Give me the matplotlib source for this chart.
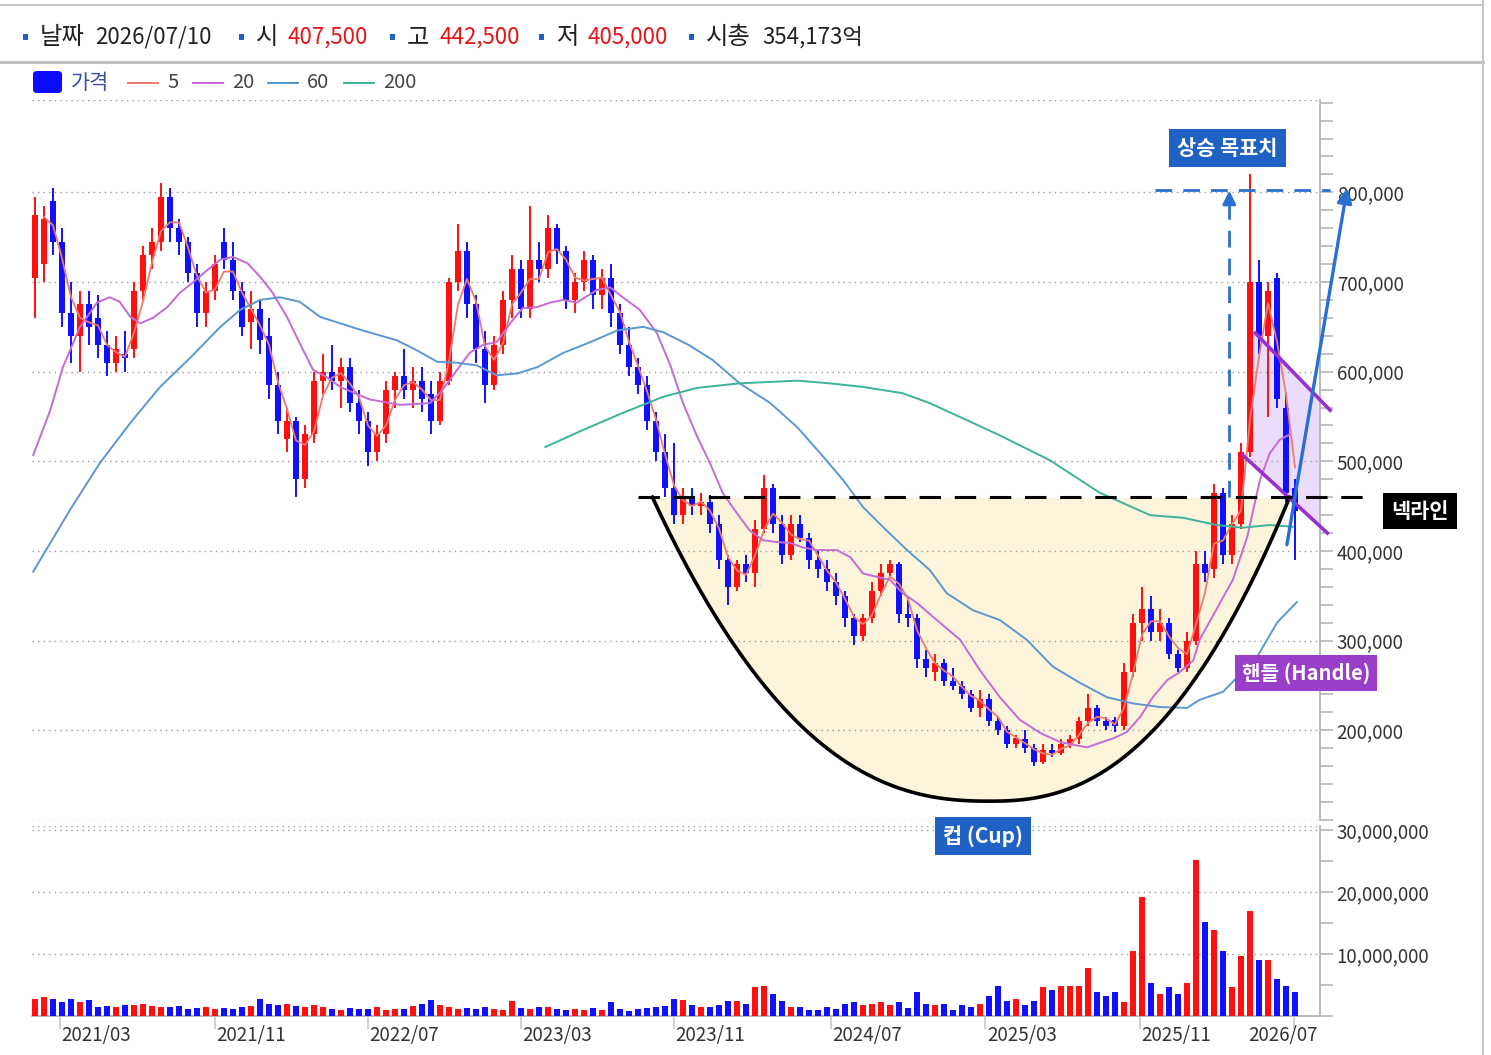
import numpy as np
import pandas as pd
import matplotlib
matplotlib.use('Agg')
import matplotlib.pyplot as plt
import matplotlib.transforms as mtrans
from matplotlib.lines import Line2D
from matplotlib.patches import Rectangle, FancyBboxPatch
from matplotlib.ticker import MultipleLocator, FuncFormatter

plt.rcParams['font.family'] = ['Noto Sans CJK KR', 'DejaVu Sans']

# ---- data (prices in 1,000 KRW, volume in millions of shares), biweekly candles ----
opens = [705, 720, 790, 745, 665, 640, 675, 660, 630, 610,
         620, 625, 690, 730, 745, 795, 760, 745, 710, 665,
         690, 745, 725, 690, 655, 670, 640, 585, 525, 545,
         480, 530, 590, 600, 590, 605, 565, 545, 510, 530,
         580, 595, 580, 590, 575, 545, 590, 700, 735, 675,
         625, 585, 630, 680, 715, 670, 725, 715, 760, 735,
         680, 700, 725, 685, 705, 665, 630, 605, 585, 545,
         510, 470, 440, 460, 450, 455, 430, 390, 360, 385,
         375, 425, 470, 430, 395, 430, 415, 390, 380, 365,
         350, 325, 305, 325, 355, 375, 385, 330, 325, 280,
         265, 275, 255, 250, 240, 225, 235, 210, 200, 185,
         190, 180, 165, 178, 175, 185, 190, 210, 225, 210,
         212, 205, 265, 320, 335, 310, 320, 285, 270, 300,
         385, 380, 465, 395, 430, 510, 700, 640, 705, 560,
         470]
highs = [795, 785, 805, 760, 700, 690, 690, 685, 645, 640,
         645, 700, 740, 760, 810, 805, 770, 750, 720, 700,
         730, 760, 745, 700, 690, 680, 660, 600, 560, 550,
         540, 600, 620, 630, 615, 615, 580, 555, 540, 590,
         600, 625, 605, 605, 590, 600, 705, 765, 745, 685,
         645, 640, 690, 730, 725, 785, 745, 775, 765, 740,
         710, 735, 730, 715, 720, 675, 650, 615, 595, 555,
         530, 520, 470, 470, 465, 462, 440, 395, 390, 395,
         435, 485, 475, 440, 440, 440, 420, 400, 390, 375,
         355, 330, 330, 365, 385, 390, 388, 345, 330, 290,
         285, 280, 270, 255, 245, 245, 240, 215, 205, 195,
         200, 185, 185, 185, 190, 195, 215, 240, 228, 215,
         215, 275, 330, 360, 350, 335, 325, 290, 310, 400,
         400, 475, 470, 440, 520, 820, 725, 700, 710, 575,
         480]
lows = [660, 700, 730, 650, 610, 600, 630, 615, 595, 600,
        600, 615, 680, 715, 735, 745, 730, 700, 650, 650,
        680, 715, 680, 640, 625, 620, 570, 530, 510, 460,
        470, 520, 575, 580, 560, 555, 530, 495, 500, 520,
        560, 570, 560, 555, 530, 540, 585, 690, 660, 610,
        565, 580, 620, 660, 660, 660, 700, 705, 720, 670,
        665, 690, 670, 670, 650, 620, 595, 575, 535, 500,
        460, 430, 430, 440, 440, 420, 380, 340, 355, 365,
        360, 420, 420, 385, 390, 410, 380, 370, 355, 340,
        315, 295, 300, 320, 350, 370, 320, 315, 270, 260,
        255, 250, 245, 235, 220, 215, 205, 195, 180, 180,
        175, 160, 162, 170, 172, 180, 185, 205, 205, 200,
        198, 200, 260, 300, 300, 300, 280, 265, 265, 295,
        365, 370, 385, 385, 425, 505, 620, 550, 560, 455,
        390]
closes = [775, 770, 745, 665, 640, 675, 650, 630, 610, 625,
          615, 690, 730, 745, 795, 760, 745, 710, 665, 690,
          720, 725, 690, 650, 670, 635, 585, 545, 545, 480,
          530, 590, 600, 590, 605, 565, 545, 510, 530, 580,
          595, 580, 590, 570, 545, 590, 700, 735, 675, 625,
          585, 630, 680, 715, 670, 725, 715, 760, 735, 680,
          700, 725, 685, 705, 665, 630, 605, 585, 545, 510,
          470, 440, 460, 450, 455, 430, 390, 360, 385, 375,
          425, 470, 430, 395, 430, 415, 390, 380, 365, 350,
          325, 305, 325, 355, 375, 385, 330, 325, 280, 270,
          275, 255, 250, 240, 225, 235, 210, 200, 185, 192,
          180, 165, 178, 175, 185, 190, 210, 225, 210, 205,
          205, 265, 320, 335, 310, 320, 285, 270, 300, 385,
          375, 465, 395, 430, 510, 700, 640, 690, 570, 465,
          445]
volumes = [2.8, 3.1, 2.7, 2.2, 2.7, 2.3, 2.6, 1.5, 1.6, 1.4,
           1.8, 1.7, 1.9, 1.6, 1.5, 1.4, 1.6, 1.2, 1.3, 1.5,
           1.1, 1.3, 1.2, 1.4, 1.6, 2.8, 2.0, 1.7, 1.9, 1.6,
           1.5, 1.7, 1.5, 1.2, 1.0, 1.3, 1.1, 1.2, 1.4, 1.0,
           1.1, 1.2, 1.6, 2.0, 2.6, 1.7, 1.4, 1.1, 1.3, 1.2,
           1.4, 1.2, 1.0, 2.5, 1.3, 1.2, 1.5, 1.4, 1.1, 1.0,
           1.2, 1.0, 1.3, 0.9, 2.3, 1.1, 0.8, 1.2, 1.3, 1.4,
           1.6, 2.7, 2.6, 1.8, 1.5, 1.4, 1.7, 2.4, 2.5, 1.9,
           4.7, 4.8, 3.5, 2.4, 1.4, 1.4, 1.0, 0.9, 1.5, 1.2,
           1.9, 2.3, 1.8, 2.0, 2.2, 1.8, 2.3, 1.3, 3.9, 1.9,
           1.8, 2.0, 1.0, 1.8, 1.4, 2.0, 3.2, 4.8, 2.5, 2.8,
           1.8, 2.4, 4.6, 4.2, 4.9, 4.9, 4.9, 7.8, 3.9, 3.2,
           3.8, 2.2, 10.5, 19.2, 5.4, 3.6, 4.6, 3.6, 5.4, 25.2,
           15.1, 13.8, 10.5, 4.7, 9.7, 17.0, 9.1, 9.1, 5.9, 4.8,
           3.8]

# moving averages (candle index, price)
ma20_idx = [-0.2, 1.7, 3.1, 5, 6.9, 8.3, 9.4, 10.6, 11.7, 13.1, 14.7, 16.1, 17.6, 19.1,
            20.6, 22, 23.6, 25, 26.4, 28, 29.4, 30.9, 32.4, 33.9, 37.2, 40.6, 43.9, 45.3,
            46.9, 48.3, 49.8, 51.3, 52.8, 54.2, 55.8, 57.2, 58.7, 60.2, 62.4, 63.9, 65.3,
            67.2, 69.1, 70.6, 72, 73.6, 75, 76.4, 78, 79.4, 80.9, 82.4, 83.9, 85.3, 86.9,
            89.1, 90.6, 92, 93.6, 95, 96.4, 98, 100.2, 102.8, 105, 107.2, 109.4, 111.7,
            113.9, 115.3, 116.9, 118.3, 119.8, 121.3, 122.8, 124.2, 125.8, 127.2, 128.7,
            129.4, 133.1, 134.7, 136.1, 137.2, 138.3, 139.4]
ma20_val = [507, 557, 605, 650, 677, 683, 678, 661, 654, 660, 672, 688, 700, 713,
            725, 728, 721, 706, 688, 661, 632, 602, 594, 583, 569, 563, 565, 580,
            602, 621, 630, 633, 654, 671, 672, 677, 680, 677, 691, 694, 683,
            669, 643, 607, 565, 527, 498, 465, 442, 423, 412, 410, 409, 404, 401,
            401, 393, 375, 371, 368, 353, 342, 323, 301, 267, 237, 212, 197,
            187, 184, 181, 186, 191, 198, 215, 237, 256, 265, 278,
            301, 368, 416, 479, 509, 524, 530]
ma60_idx = [-0.2, 3.9, 7.2, 10.6, 13.9, 17.2, 20.6, 22.8, 25, 27.2, 29.4, 31.7, 33.9,
            36.4, 40.2, 42.4, 44.7, 46.9, 49.1, 51.3, 53.6, 55.8, 58.7, 61.7, 64.7,
            67.6, 69.8, 72.6, 75.3, 78.3, 81.7, 84.7, 87.6, 89.8, 92, 94.2, 96.9, 99.4,
            101.3, 104.2, 107.2, 110.2, 113.1, 116.1, 119.1, 122, 125, 128, 129.4, 132,
            135.8, 138, 140.2]
ma60_val = [377, 446, 498, 543, 583, 615, 650, 669, 680, 683, 678, 661, 654,
            646, 635, 624, 611, 610, 607, 596, 598, 605, 621, 633, 646,
            650, 644, 630, 613, 587, 565, 538, 505, 479, 449, 427, 401, 379,
            353, 334, 323, 301, 271, 253, 237, 230, 226, 225, 234, 243,
            282, 320, 343]
ma200_idx = [56.7, 60.9, 65.3, 69.8, 73.6, 78.3, 84.7, 88.3, 92, 96.4, 99.4, 103.1,
             107.2, 112.8, 118.3, 123.9, 127.6, 131.3, 134.2, 137.2, 139.8]
ma200_val = [516, 535, 554, 572, 582, 587, 590, 587, 583, 576, 565, 548,
             529, 501, 465, 440, 437, 429, 426, 429, 427]

tick_idx = [2.8, 20, 37, 54, 71, 88.4, 105.6, 122.8, 139.9]
tick_labels = ['2021/03', '2021/11', '2022/07', '2023/03', '2023/11',
               '2024/07', '2025/03', '2025/11', '2026/07']

header_labels = ['날짜', '시', '고', '저', '시총']
header_values = ['2026/07/10', '407,500', '442,500', '405,000', '354,173억']
header_colors = ['#222222', '#e8141a', '#e8141a', '#e8141a', '#222222']

neck_price = 460
target_price = 803

# ---- colours ----
RED = '#ff1010'
BLUE = '#1010ff'
C5, C20, C60, C200 = '#f07a6e', '#c56ad6', '#5b97d2', '#3db39a'
GRID = '#9a9a9a'
ANN_BLUE = '#2a6fd2'
BOX_BLUE = '#1f62c4'
HANDLE = '#9a2fd0'

W, H = 1491, 1055


def fx(px):
    return px / W


def fy(py):
    return 1 - py / H


fig = plt.figure(figsize=(W / 100, H / 100), dpi=100)
fig.patch.set_facecolor('white')

ax_vol = fig.add_axes([fx(32), fy(1016), fx(1320) - fx(32), fy(826) - fy(1016)])
ax = fig.add_axes([fx(32), fy(820), fx(1320) - fx(32), fy(100) - fy(820)])
ax.set_facecolor('none')

o = np.array(opens, float)
h = np.array(highs, float)
l = np.array(lows, float)
c = np.array(closes, float)
idx = np.arange(len(c))
cols = np.where(c >= o, RED, BLUE)

xlim = ((32 - 35) / 9, (1320 - 35) / 9)

# ---- price pane ----
for v in list(range(100, 900, 100)) + [903]:
    ax.axhline(v, color=GRID, ls=(0, (1, 3)), lw=1, zorder=1)

# cup shape
cup_left, cup_mid, cup_right, cup_low = 68.6, 106.1, 139.4, 121
tt = np.linspace(cup_left, cup_right, 300)
dd = np.where(tt < cup_mid, (cup_mid - tt) / (cup_mid - cup_left),
              (tt - cup_mid) / (cup_right - cup_mid))
yy = cup_low + (neck_price - cup_low) * dd ** 2.4
ax.fill_between(tt, yy, neck_price, color='#fdf5db', zorder=0.5, lw=0)
ax.plot(tt, yy, color='black', lw=2.6, zorder=7)

# handle channel
def upper_line(x):
    return 643 + (557 - 643) * (x - 135.6) / (143.9 - 135.6)


def lower_line(x):
    return 507 + (420 - 507) * (x - 134.2) / (143.6 - 134.2)


hx = np.linspace(135.0, xlim[1], 50)
ax.fill_between(hx, lower_line(hx), upper_line(hx), color='#ecdcfb', zorder=0.6, lw=0)
ax.plot([135.6, 143.9], [643, 557], color=HANDLE, lw=2.6, zorder=8, clip_on=False)
ax.plot([134.2, 143.6], [507, 420], color=HANDLE, lw=2.6, zorder=8, clip_on=False)

# candles
ax.vlines(idx, l, h, colors=cols, lw=1.4, zorder=4)
ax.bar(idx, np.maximum(np.abs(c - o), 2.5), bottom=np.minimum(o, c), width=0.72,
       color=cols, lw=0, zorder=5)

# moving averages
ma5 = pd.Series(c).rolling(3, min_periods=2).mean()
ax.plot(idx, ma5, color=C5, lw=1.3, zorder=6)
ax.plot(ma20_idx, ma20_val, color=C20, lw=1.4, zorder=6)
ax.plot(ma60_idx, ma60_val, color=C60, lw=1.4, zorder=6)
ax.plot(ma200_idx, ma200_val, color=C200, lw=1.4, zorder=6)

# neckline
ax.plot([67.0, 148.9], [neck_price, neck_price], color='black', lw=2.2,
        dashes=(7, 4.5), zorder=8, clip_on=False)
ax.text(153.9, 444.6, '넥라인', color='white', fontsize=15, fontweight='bold',
        ha='center', va='center', zorder=10, clip_on=False,
        bbox=dict(boxstyle='square,pad=0.38', fc='black', ec='none'))

# target
ax.plot([124.4, 143.9], [target_price, target_price], color=ANN_BLUE, lw=2,
        dashes=(6, 4), zorder=8, clip_on=False)
ax.plot([132.7, 132.7], [neck_price, target_price - 12], color=ANN_BLUE, lw=2,
        dashes=(6, 4), zorder=8)
ax.annotate('', xy=(132.7, target_price + 2), xytext=(132.7, target_price - 20),
            arrowprops=dict(arrowstyle='-|>', color=ANN_BLUE, lw=2, mutation_scale=20),
            zorder=8)
ax.annotate('', xy=(145.8, target_price + 2), xytext=(139.1, 407),
            arrowprops=dict(arrowstyle='-|>', color=ANN_BLUE, lw=2.4, mutation_scale=22,
                            shrinkA=0, shrinkB=0),
            zorder=9, annotation_clip=False)
ax.text(132.5, 849.4, '상승 목표치', color='white', fontsize=15, fontweight='bold',
        ha='center', va='center', zorder=10,
        bbox=dict(boxstyle='square,pad=0.4', fc=BOX_BLUE, ec='none'))
ax.text(141.2, 264, '핸들 (Handle)', color='white', fontsize=14.5, fontweight='bold',
        ha='center', va='center', zorder=10, clip_on=False,
        bbox=dict(boxstyle='square,pad=0.35', fc='#9a3ec9', ec='none'))
ax.text(105.3, 82.2, '컵 (Cup)', color='white', fontsize=15, fontweight='bold',
        ha='center', va='center', zorder=10, clip_on=False,
        bbox=dict(boxstyle='square,pad=0.38', fc=BOX_BLUE, ec='none'))

ax.set_xlim(*xlim)
ax.set_ylim(100, 903)
ax.set_xticks([])
ax.yaxis.tick_right()
ax.set_yticks(range(200, 900, 100))
ax.yaxis.set_major_formatter(FuncFormatter(lambda v, p: f'{int(round(v * 1000)):,}'))
ax.yaxis.set_minor_locator(MultipleLocator(20))
ax.tick_params(axis='y', which='both', length=9, width=1.2, color='#b5b5b5',
               labelsize=13.5, labelcolor='#333333', pad=3)
for s in ['top', 'left', 'bottom']:
    ax.spines[s].set_visible(False)
ax.spines['right'].set_color('#b5b5b5')
ax.spines['right'].set_linewidth(1.3)

# ---- volume pane ----
for v in [10, 20, 30, 30.65]:
    ax_vol.axhline(v, color=GRID, ls=(0, (1, 3)), lw=1, zorder=1)
ax_vol.bar(idx, volumes, width=0.75, color=cols, lw=0, zorder=3)
ax_vol.set_xlim(*xlim)
ax_vol.set_ylim(0, 30.65)
ax_vol.yaxis.tick_right()
ax_vol.set_yticks([10, 20, 30])
ax_vol.yaxis.set_major_formatter(FuncFormatter(lambda v, p: f'{int(round(v * 1e6)):,}'))
ax_vol.yaxis.set_minor_locator(MultipleLocator(5))
ax_vol.tick_params(axis='y', which='both', length=9, width=1.2, color='#b5b5b5',
                   labelsize=13.5, labelcolor='#333333', pad=3)
ax_vol.set_xticks(tick_idx)
ax_vol.set_xticklabels([])
ax_vol.tick_params(axis='x', length=9, width=1.2, color='#c8c8c8')
for s in ['top', 'left']:
    ax_vol.spines[s].set_visible(False)
for s in ['right', 'bottom']:
    ax_vol.spines[s].set_color('#b5b5b5')
    ax_vol.spines[s].set_linewidth(1.3)

trans = mtrans.blended_transform_factory(ax_vol.transData, ax_vol.transAxes)
for k, (pos, lab) in enumerate(zip(tick_idx, tick_labels)):
    if k == len(tick_idx) - 1:
        ax_vol.text(0.998, -0.1, lab, transform=ax_vol.transAxes, ha='right', va='center',
                    fontsize=13.5, color='#333333')
    else:
        ax_vol.text(pos + 0.15, -0.1, lab, transform=trans, ha='left', va='center',
                    fontsize=13.5, color='#333333')

# ---- frame lines ----
fig.add_artist(Line2D([fx(0), fx(1483)], [fy(5), fy(5)], color='#c8c8c8', lw=1.5))
fig.add_artist(Line2D([fx(0), fx(1483)], [fy(62), fy(62)], color='#bdbdbd', lw=2))
fig.add_artist(Line2D([fx(1483), fx(1483)], [fy(0), fy(1055)], color='#c8c8c8', lw=1.5))

# ---- header ----
sq_x = [25, 241, 392, 541, 691]
lab_x = [40, 256, 407, 557, 706]
val_x = [95, 287, 439, 588, 762]
for sx, lx, vx, lab, val, vc in zip(sq_x, lab_x, val_x, header_labels, header_values,
                                     header_colors):
    fig.add_artist(Rectangle((fx(sx - 2.5), fy(39.5)), 5 / W, 5 / H, color='#1f5fc8', lw=0))
    fig.text(fx(lx), fy(37), lab, fontsize=17.5, color='#222222', ha='left', va='center')
    fig.text(fx(vx), fy(37), val, fontsize=16, color=vc, ha='left', va='center')

# ---- legend ----
fig.add_artist(FancyBboxPatch((fx(33), fy(93)), 29 / W, 22 / H,
                              boxstyle='round,pad=0,rounding_size=0.003',
                              fc='#0a0aff', ec='none'))
fig.text(fx(71), fy(83), '가격', fontsize=15, color='#3a50a8', ha='left', va='center')
for x0, col, lab in [(128, C5, '5'), (193, C20, '20'), (268, C60, '60'), (344, C200, '200')]:
    fig.add_artist(Line2D([fx(x0), fx(x0 + 30)], [fy(83), fy(83)], color=col, lw=1.4))
    fig.text(fx(x0 + 39), fy(83), lab, fontsize=14.5, color='#444444', ha='left', va='center')

fig.savefig('out.png', dpi=100, facecolor='white')
